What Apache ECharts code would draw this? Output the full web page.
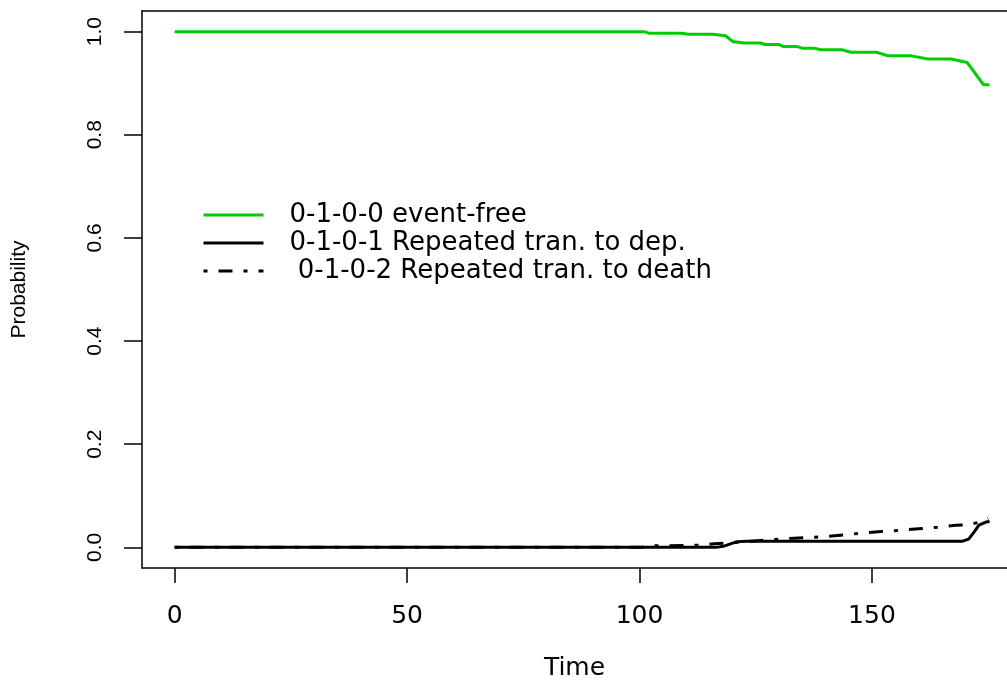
<!DOCTYPE html>
<html>
<head>
<meta charset="utf-8">
<script src="https://cdn.jsdelivr.net/npm/echarts@6/dist/echarts.min.js"></script>
<style>
  html, body { margin: 0; padding: 0; background: #fff; }
  #chart { width: 1007px; height: 682px; }
</style>
</head>
<body>
<div id="chart"></div>
<script>
// values: [time, probability]
var eventFree = [
  [0, 1.0], [101, 1.0], [102, 0.997], [109, 0.997], [110.5, 0.995], [115.7, 0.995],
  [118.5, 0.992], [120, 0.981], [122.5, 0.978], [126, 0.978], [127, 0.975], [130, 0.975],
  [131, 0.971], [134, 0.971], [135, 0.968], [137.5, 0.968], [139, 0.965], [143.5, 0.965],
  [145.5, 0.960], [151, 0.960], [153.5, 0.953], [158.5, 0.953], [162, 0.947], [167, 0.947],
  [170.5, 0.940], [174, 0.897], [175.3, 0.897]
];
var toDep = [
  [0, 0], [116.5, 0], [118, 0.002], [121, 0.011], [123, 0.012], [169.5, 0.012],
  [170.8, 0.016], [172, 0.03], [173, 0.043], [174.5, 0.049], [175.3, 0.05]
];
var toDeath = [
  [0, 0], [100, 0], [103, 0.003], [113, 0.004], [116, 0.007], [120, 0.009], [124, 0.012],
  [128, 0.015], [132, 0.017], [136, 0.019], [140, 0.021], [144, 0.024], [148, 0.028],
  [152, 0.031], [156, 0.033], [160, 0.036], [164, 0.039], [168, 0.043], [171, 0.044],
  [173.5, 0.05], [175, 0.056]
];
var seriesNames = ["0-1-0-0 event-free", "0-1-0-1 Repeated tran. to dep.", " 0-1-0-2 Repeated tran. to death"];
var xTicks = [0, 50, 100, 150];
var yTicks = [0, 0.2, 0.4, 0.6, 0.8, 1.0];

var myChart = echarts.init(document.getElementById("chart"));

// the box runs off the right edge of the picture, so the axis stops at the canvas edge
var xMin = -7.01, xMax = 179.05;
var yMin = -0.04, yMax = 1.04;

var tickLine = { color: "#000", width: 1.5 };

var option = {
  animation: false,
  grid: {
    left: 142,
    right: 0,
    top: 11,
    bottom: 114,
    outerBoundsMode: "none"
  },
  legend: {
    orient: "vertical",
    left: 202,
    top: 202,
    padding: 0,
    itemWidth: 60,
    itemHeight: 14,
    itemGap: 2,
    data: seriesNames,
    // hide the marker dot, keep only the line
    itemStyle: { color: "transparent", borderWidth: 0, opacity: 0 },
    lineStyle: { width: 3 },
    textStyle: {
      fontFamily: "DejaVu Sans",
      fontSize: 26,
      color: "#000",
      padding: [0, 0, 0, 21]
    }
  },
  xAxis: [
    {
      type: "value",
      position: "bottom",
      min: xMin,
      max: xMax,
      name: "Time",
      nameLocation: "middle",
      nameGap: 88,
      nameTextStyle: { fontFamily: "DejaVu Sans", fontSize: 25, color: "#000" },
      axisLine: { show: true, onZero: false, lineStyle: tickLine },
      splitLine: { show: false },
      axisTick: { show: true, inside: false, length: 15, customValues: xTicks, lineStyle: tickLine },
      axisLabel: {
        customValues: xTicks,
        margin: 36,
        fontFamily: "DejaVu Sans",
        fontSize: 25,
        color: "#000"
      }
    },
    // top side of the box
    {
      type: "value",
      position: "top",
      min: xMin,
      max: xMax,
      axisLine: { show: true, onZero: false, lineStyle: tickLine },
      axisTick: { show: false },
      axisLabel: { show: false },
      splitLine: { show: false }
    },
    // tick marks below the box: axis pushed 15px down, ticks pointing back up
    {
      type: "value",
      position: "bottom",
      offset: 15,
      min: xMin,
      max: xMax,
      axisLine: { show: false, onZero: false },
      axisTick: { show: true, inside: true, length: 15, customValues: xTicks, lineStyle: tickLine },
      axisLabel: { show: false },
      splitLine: { show: false }
    }
  ],
  yAxis: [
    {
      type: "value",
      position: "left",
      min: yMin,
      max: yMax,
      name: "Probability",
      nameLocation: "middle",
      nameGap: 112,
      nameTextStyle: { fontFamily: "Liberation Sans", fontSize: 21, color: "#000" },
      axisLine: { show: true, onZero: false, lineStyle: tickLine },
      splitLine: { show: false },
      axisTick: { show: true, inside: false, length: 18, customValues: yTicks, lineStyle: tickLine },
      axisLabel: {
        customValues: yTicks,
        rotate: 90,
        margin: 36,
        fontFamily: "Liberation Sans",
        fontSize: 21,
        color: "#000",
        formatter: function (v) { return v.toFixed(1); }
      }
    },
    // tick marks left of the box: axis pushed 18px left, ticks pointing back right
    {
      type: "value",
      position: "left",
      offset: 18,
      min: yMin,
      max: yMax,
      axisLine: { show: false, onZero: false },
      axisTick: { show: true, inside: true, length: 18, customValues: yTicks, lineStyle: tickLine },
      axisLabel: { show: false },
      splitLine: { show: false }
    }
  ],
  series: [
    {
      name: seriesNames[0],
      type: "line",
      symbol: "none",
      data: eventFree,
      lineStyle: { color: "#00CD00", width: 3 },
      itemStyle: { color: "#00CD00" }
    },
    {
      name: seriesNames[1],
      type: "line",
      symbol: "none",
      data: toDep,
      lineStyle: { color: "#000", width: 3 },
      itemStyle: { color: "#000" }
    },
    {
      name: seriesNames[2],
      type: "line",
      symbol: "none",
      data: toDeath,
      lineStyle: { color: "#000", width: 3, type: [4, 11, 14, 11] },
      itemStyle: { color: "#000" }
    }
  ]
};

myChart.setOption(option);
</script>
</body>
</html>
